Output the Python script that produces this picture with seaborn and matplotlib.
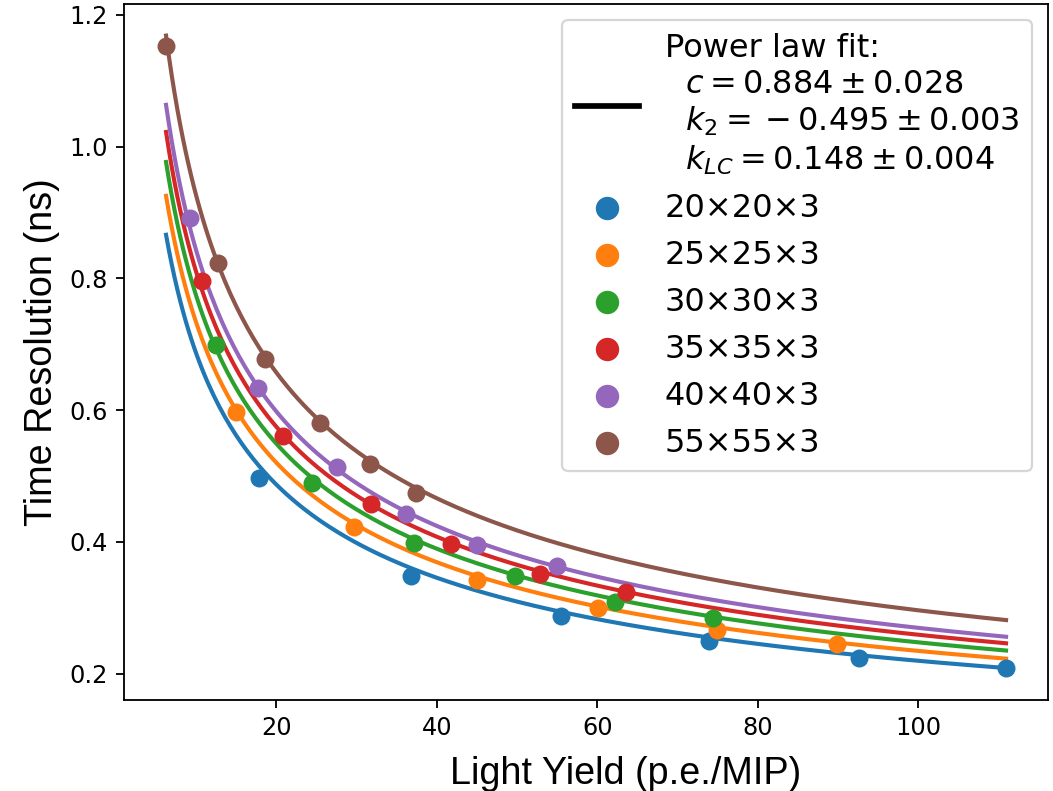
import numpy as np
import pandas as pd
import matplotlib
matplotlib.use("Agg")
import matplotlib.pyplot as plt
import seaborn as sns
from matplotlib.lines import Line2D

# ---- data ----
tile_labels = ["20×20×3", "25×25×3", "30×30×3", "35×35×3", "40×40×3", "55×55×3"]
tile_side = [20, 25, 30, 35, 40, 55]

ly_20 = [17.84, 36.8, 55.44, 73.96, 92.57, 110.96]
tr_20 = [0.497, 0.348, 0.288, 0.250, 0.224, 0.208]
ly_25 = [14.94, 29.73, 45.04, 60.06, 74.95, 89.91]
tr_25 = [0.597, 0.423, 0.342, 0.300, 0.266, 0.2455]
ly_30 = [12.46, 24.46, 37.18, 49.73, 62.2, 74.47]
tr_30 = [0.699, 0.489, 0.399, 0.348, 0.309, 0.284]
ly_35 = [10.67, 20.86, 31.79, 41.73, 52.9, 63.57]
tr_35 = [0.796, 0.561, 0.458, 0.397, 0.351, 0.324]
ly_40 = [9.23, 17.75, 27.57, 36.14, 44.96, 55.02]
tr_40 = [0.892, 0.634, 0.513, 0.442, 0.396, 0.364]
ly_55 = [6.25, 12.75, 18.55, 25.5, 31.71, 37.38]
tr_55 = [1.152, 0.823, 0.678, 0.581, 0.519, 0.474]

# power-law fit parameters (from the legend)
fit_c, fit_c_err = 0.884, 0.028
fit_k2, fit_k2_err = -0.495, 0.003
fit_klc, fit_klc_err = 0.148, 0.004

ly_all = [ly_20, ly_25, ly_30, ly_35, ly_40, ly_55]
tr_all = [tr_20, tr_25, tr_30, tr_35, tr_40, tr_55]

points = pd.concat(
    [pd.DataFrame({"ly": lx, "tr": ty, "tile": lab})
     for lx, ty, lab in zip(ly_all, tr_all, tile_labels)],
    ignore_index=True)

x_min = min(min(v) for v in ly_all)
x_max = max(max(v) for v in ly_all)
x_fit = np.linspace(x_min, x_max, 300)
curves = pd.concat(
    [pd.DataFrame({"ly": x_fit,
                   "tr": fit_c * x_fit ** fit_k2 * (side ** 2) ** fit_klc,
                   "tile": lab})
     for side, lab in zip(tile_side, tile_labels)],
    ignore_index=True)

palette = sns.color_palette("tab10", len(tile_labels))

# ---- figure ----
dpi = 164.5
fig = plt.figure(figsize=(1053 / dpi, 791 / dpi), dpi=dpi)
ax = fig.add_axes([0.1178, 0.115, 0.8775, 0.880])

sns.lineplot(data=curves, x="ly", y="tr", hue="tile", hue_order=tile_labels,
             palette=palette, linewidth=1.8, legend=False, ax=ax, zorder=2)

for lab, col in zip(tile_labels, palette):
    sub = points[points["tile"] == lab]
    sns.scatterplot(x=sub["ly"], y=sub["tr"], color=col, s=62, linewidth=0,
                    label=lab, ax=ax, zorder=3)

fit_label = ("Power law fit:\n"
             f"  $c = {fit_c:.3f} \\pm {fit_c_err:.3f}$\n"
             f"  $k_2 = {{}}-{abs(fit_k2):.3f} \\pm {fit_k2_err:.3f}$\n"
             f"  $k_{{LC}} = {fit_klc:.3f} \\pm {fit_klc_err:.3f}$")
fit_handle = Line2D([], [], color="black", linewidth=2.5, label=fit_label)

handles, labels = ax.get_legend_handles_labels()
ax.legend([fit_handle] + handles, [fit_label] + labels, loc="upper right",
          fontsize=14, markerscale=1.3, handlelength=2.0)

ax.set_xlabel("Light Yield (p.e./MIP)", fontsize=16.5,
              family=["Liberation Sans", "DejaVu Sans"], labelpad=7)
ax.xaxis.label.set_x(0.543)
ax.set_ylabel("Time Resolution (ns)", fontsize=16.5,
              family=["Liberation Sans", "DejaVu Sans"])
ax.set_xticks([20, 40, 60, 80, 100])
ax.set_yticks([0.2, 0.4, 0.6, 0.8, 1.0, 1.2])
ax.tick_params(labelsize=10.5)

fig.savefig("out.png", dpi=dpi)
